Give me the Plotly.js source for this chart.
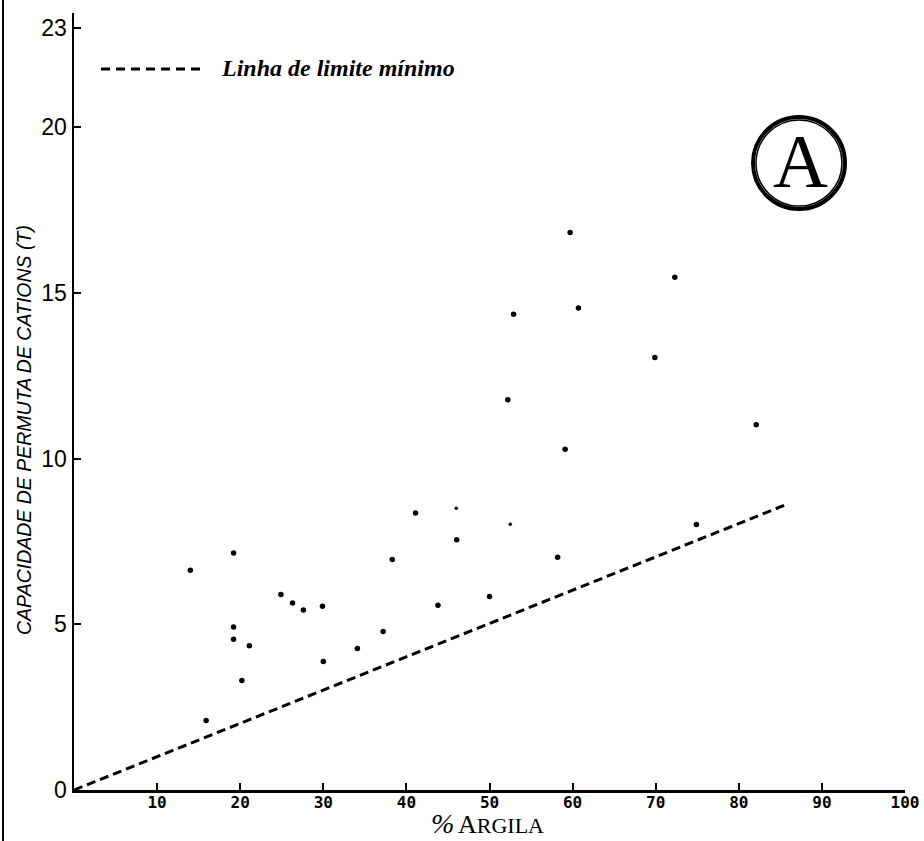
<!DOCTYPE html>
<html>
<head>
<meta charset="utf-8">
<script src="https://cdn.plot.ly/plotly-3.0.1.min.js"></script>
<style>html,body{margin:0;padding:0;background:#fff;}</style>
</head>
<body>
<div id="chart" style="width:924px;height:841px;"></div>
<script>
// % argila (clay) and cation exchange capacity (T)
const argila = [14.0, 19.2, 19.2, 19.2, 15.9, 20.2, 21.1, 24.9, 26.3, 27.6, 29.9, 30.0, 34.1, 37.2, 38.3,
                41.1, 43.8, 46.05, 50.0, 52.2, 52.9, 58.2, 59.1, 59.7, 60.7, 69.9, 72.3, 74.9, 82.1];
const capT   = [6.63, 7.15, 4.92, 4.55, 2.10, 3.30, 4.35, 5.90, 5.64, 5.43, 5.54, 3.88, 4.27, 4.78, 6.95,
                8.36, 5.57, 7.55, 5.84, 11.77, 14.35, 7.02, 10.28, 16.82, 14.54, 13.05, 15.47, 8.01, 11.02];
// smaller (faint) points
const argilaSmall = [46.0, 52.5];
const capTSmall   = [8.50, 8.02];
// minimum limit line
const limiteX = [0, 85.6];
const limiteY = [0, 8.6];

const xTicks = [10, 20, 30, 40, 50, 60, 70, 80, 90, 100];
const xTickText = ['10', '20', '30', '40', '50', '60', '70', '80', '90', '100'];
const yTicks = [0, 5, 10, 15, 20, 23];
const yTickText = ['0', '5', '10', '15', '20', '23'];

const legendText = 'Linha de limite mínimo';
const yTitle = 'CAPACIDADE DE PERMUTA DE CATIONS (T)';

const traces = [
  {x: limiteX, y: limiteY, mode: 'lines', line: {color: '#000', width: 3, dash: '9px,5px'},
   showlegend: false, hoverinfo: 'skip'},
  {x: argila, y: capT, mode: 'markers', marker: {color: '#000', size: 5.5}, showlegend: false},
  {x: argilaSmall, y: capTSmall, mode: 'markers', marker: {color: '#000', size: 3.5}, showlegend: false}
];

const W = 831, H = 777; // plot area in px
function px(xp){ return (xp - 74) / W; }
function py(yp){ return (790 - yp) / H; }

const layout = {
  width: 924, height: 841,
  margin: {l: 74, r: 19, t: 13, b: 51},
  paper_bgcolor: '#fff', plot_bgcolor: '#fff',
  showlegend: false,
  xaxis: {
    range: [0, 100], tickvals: xTicks, ticktext: xTickText,
    showline: true, linecolor: '#000', linewidth: 2.5,
    ticks: 'inside', ticklen: 7, tickwidth: 2, tickcolor: '#000',
    ticklabelstandoff: -4,
    showgrid: false, zeroline: false,
    tickfont: {family: 'DejaVu Sans Mono', size: 16, color: '#000', weight: 'bold'}
  },
  yaxis: {
    range: [0, 23.44], tickvals: yTicks, ticktext: yTickText,
    showline: true, linecolor: '#000', linewidth: 2.5,
    ticks: 'inside', ticklen: 7, tickwidth: 2, tickcolor: '#000',
    showgrid: false, zeroline: false,
    tickfont: {family: 'Liberation Sans', size: 23, color: '#000'}
  },
  shapes: [
    // page frame line at the far left
    {type: 'line', xref: 'paper', yref: 'paper', x0: px(3), x1: px(3), y0: py(0), y1: py(841),
     line: {color: '#000', width: 2}},
    // legend sample line
    {type: 'line', xref: 'paper', yref: 'paper', x0: px(101), x1: px(202), y0: py(69), y1: py(69),
     line: {color: '#000', width: 3, dash: '9px,6px'}},
    // circled A
    {type: 'circle', xref: 'paper', yref: 'paper', x0: px(753), x1: px(845), y0: py(209), y1: py(117),
     line: {color: '#000', width: 4}},
    {type: 'circle', xref: 'paper', yref: 'paper', x0: px(756), x1: px(842), y0: py(206), y1: py(120),
     line: {color: '#000', width: 1.5}}
  ],
  annotations: [
    {xref: 'paper', yref: 'paper', x: px(219), y: py(68), xanchor: 'left', yanchor: 'middle',
     text: '<b><i>' + legendText + '</i></b>', showarrow: false,
     font: {family: 'Liberation Serif', size: 24, color: '#000'}},
    {xref: 'paper', yref: 'paper', x: px(800), y: py(161), xanchor: 'center', yanchor: 'middle',
     text: 'A', showarrow: false,
     font: {family: 'Liberation Serif', size: 76, color: '#000'}},
    {xref: 'paper', yref: 'paper', x: px(24), y: py(430), xanchor: 'center', yanchor: 'middle',
     text: '<i>' + yTitle + '</i>', textangle: -90, showarrow: false,
     font: {family: 'Liberation Sans', size: 19.5, color: '#000'}},
    {xref: 'paper', yref: 'paper', x: px(429), y: py(841), xanchor: 'left', yanchor: 'bottom',
     text: '<i>%</i>', showarrow: false,
     font: {family: 'Liberation Serif', size: 28, color: '#000'}},
    {xref: 'paper', yref: 'paper', x: px(456), y: py(841), xanchor: 'left', yanchor: 'bottom',
     text: '<span style="font-size:26px">A</span>RGILA', showarrow: false,
     font: {family: 'Liberation Serif', size: 22, color: '#000'}}
  ]
};

Plotly.newPlot('chart', traces, layout, {displayModeBar: false, staticPlot: true});
</script>
</body>
</html>
